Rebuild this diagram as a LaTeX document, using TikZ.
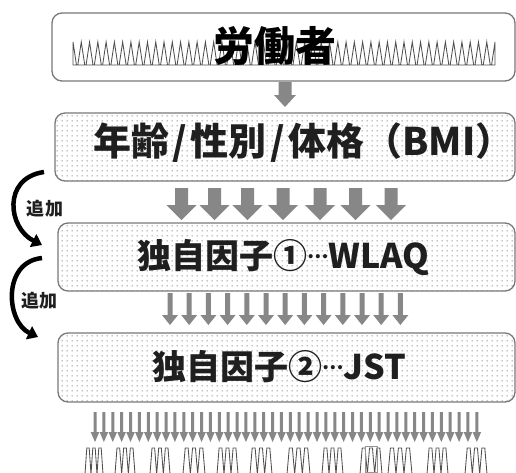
\documentclass[tikz,border=0pt]{standalone}
\usepackage{fontspec}
\newfontfamily\jp{Noto Sans CJK JP}
\usetikzlibrary{patterns.meta,arrows.meta}
\definecolor{boxline}{RGB}{120,120,120}
\definecolor{arrowgray}{RGB}{135,135,135}
\definecolor{dotgray}{RGB}{90,90,90}
\definecolor{zig}{RGB}{80,80,80}
\tikzdeclarepattern{
  name=finedots,
  type=uncolored,
  bounding box={(0pt,0pt) and (5pt,5pt)},
  tile size={(5pt,5pt)},
  code={\fill (2.5pt,2.5pt) circle (0.7pt);}
}
\tikzset{
  box/.style={draw=boxline, line width=1.3pt, rounded corners=10pt, inner sep=0pt},
  dotbox/.style={box, pattern=finedots, pattern color=dotgray},
  bigtext/.style={font=\jp\bfseries\fontsize{34}{34}\selectfont, text=black!88, inner sep=0pt},
  addtext/.style={font=\jp\bfseries\fontsize{18}{18}\selectfont, text=black!88, inner sep=0pt},
  zigline/.style={draw=zig, line width=0.85pt, line join=miter},
  curvarrow/.style={line width=4.5pt, black, -{Triangle[length=10pt,width=14pt]}},
}
\newcommand\blkarrow[6]{\fill[arrowgray] ({#1-#5},#2) -- ({#1+#5},#2) -- ({#1+#5},#3) -- ({#1+#6},#3) -- (#1,#4) -- ({#1-#6},#3) -- ({#1-#5},#3) -- cycle;}
\newcommand\middots{\raisebox{10pt}{\fontsize{19}{19}\selectfont …}}
\newcommand\slashsep{\hspace{3.5pt}/\hspace{3.5pt}}
\begin{document}
\begin{tikzpicture}[x=1pt,y=-1pt]
\useasboundingbox (0,0) rectangle (516,472);
\fill[white] (0,0) rectangle (516,472);

% boxes
\node[box, minimum width=463pt, minimum height=68pt] (b1) at (283.5,47) {};
\node[dotbox, minimum width=460pt, minimum height=68pt] (b2) at (285,147) {};
\node[dotbox, minimum width=457pt, minimum height=68pt] (b3) at (286.5,257) {};
\node[dotbox, minimum width=457pt, minimum height=69pt] (b4) at (286.5,367.5) {};

% zigzag in top box
\draw[zigline] (73,65) -- (73,42) \foreach \k in {0,...,50}{ -- ({73+(\k+0.42)*8.275},65) -- ({73+(\k+0.58)*8.275},65) -- ({73+(\k+1)*8.275},42) } -- (495,65) -- cycle;

% texts
\node[font=\jp\bfseries\fontsize{41}{41}\selectfont, text=black, inner sep=0pt] (t1) at (275,46) {労働者};
\node[bigtext, font=\jp\bfseries\fontsize{38}{38}\selectfont, anchor=west] (t2) at (93,142.5) {年齢\slashsep 性別\slashsep 体格（BMI）};
\node[bigtext] (t3) at (283,258) {独自因子①\middots WLAQ};
\node[bigtext] (t4) at (279,367) {独自因子②\middots JST};

% block arrows
\blkarrow{285}{82}{95}{107}{6.5}{11}
\foreach \c in {181.5,214.5,247.5,283,320,355.5,391}{\blkarrow{\c}{188}{205}{220}{6.5}{15}}
\foreach \k in {0,...,12}{\pgfmathsetmacro\c{170+19.2*\k}\blkarrow{\c}{293}{315}{325}{2.5}{8}}
\foreach \k in {0,...,43}{\pgfmathsetmacro\c{95+8.88*\k}\blkarrow{\c}{412}{432}{442}{1.5}{4.3}}

% curved arrows with labels
\coordinate (c1s) at (44,172);
\coordinate (c1e) at (42,245);
\coordinate (c2s) at (42,258);
\coordinate (c2e) at (38,337);
\draw[curvarrow] (c1s) .. controls (2,178) and (8,228) .. (c1e);
\draw[curvarrow] (c2s) .. controls (2,262) and (6,322) .. (c2e);
\node[addtext] (l1) at (45,208.5) {追加};
\node[addtext] (l2) at (39.5,300.5) {追加};

% bottom zigzag groups
\foreach \a/\b in {85/103,115/135,150/170,183/205,217/238,250/272,287/310,322/343,360/382,388/412,427/448,465/487}{
  \pgfmathsetmacro\u{(\b-\a)/3}
  \draw[zigline] (\a,474) \foreach \i in {0,1,2}{ -- ({\a+(\i+0.3)*\u},448) -- ({\a+(\i+0.7)*\u},448) -- ({\a+(\i+1)*\u},474) };
}
\draw[draw=zig!60, line width=0.6pt] (365,446) rectangle (377,472);
\end{tikzpicture}
\end{document}
